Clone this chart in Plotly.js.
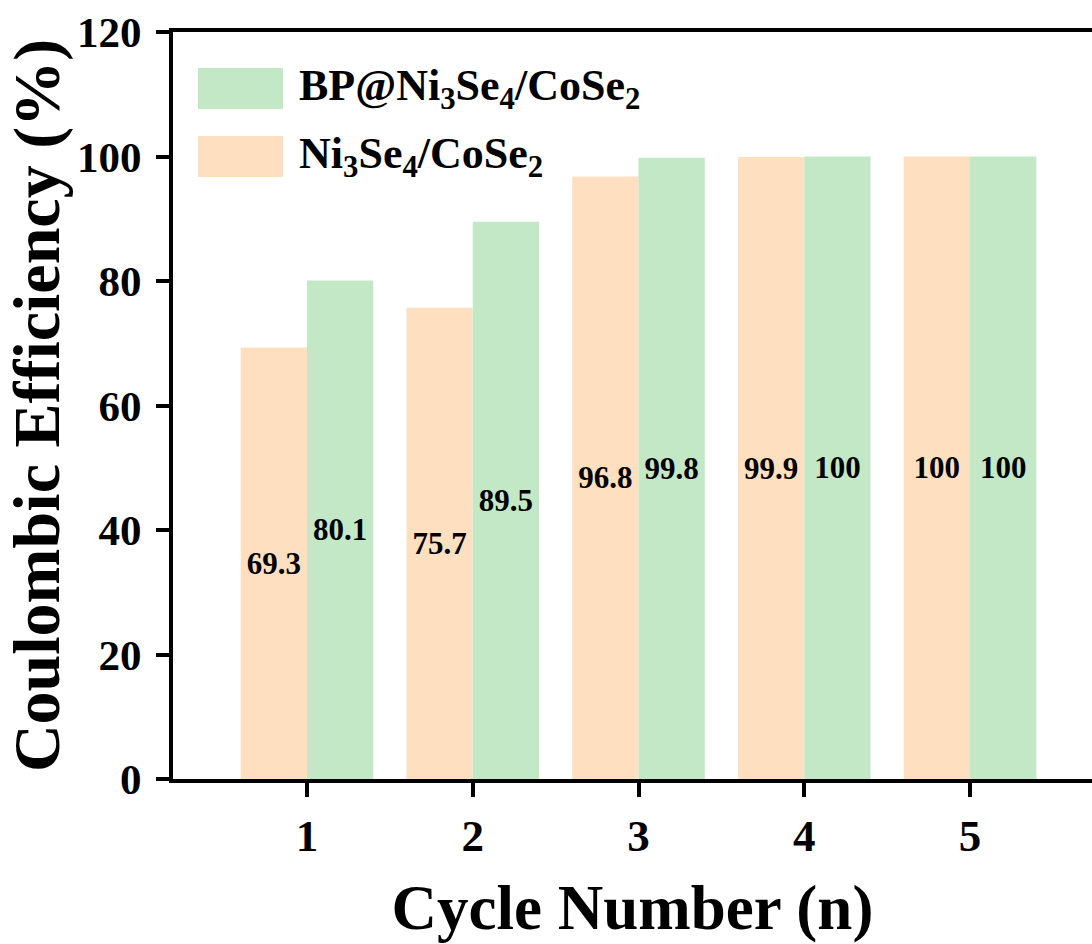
<!DOCTYPE html>
<html>
<head>
<meta charset="utf-8">
<script src="https://cdn.plot.ly/plotly-3.0.1.min.js"></script>
<style>html,body{margin:0;padding:0;background:#fff;}</style>
</head>
<body>
<div id="chart" style="width:1092px;height:944px;"></div>
<script>
// Data
const cycles = [1, 2, 3, 4, 5];
const ni3se4CoSe2 = [69.3, 75.7, 96.8, 99.9, 100];
const bpNi3se4CoSe2 = [80.1, 89.5, 99.8, 100, 100];
const yTicks = [0, 20, 40, 60, 80, 100, 120];
const seriesNames = ['Ni<sub>3</sub>Se<sub>4</sub>/CoSe<sub>2</sub>', 'BP@Ni<sub>3</sub>Se<sub>4</sub>/CoSe<sub>2</sub>'];

const FONT = 'Liberation Serif, Times New Roman, serif';
const ORANGE = '#FEDFC0';
const GREEN = '#C3E8C6';

const labelFont = {family: FONT, size: 31, color: '#000', weight: 'bold'};

const traces = [
  {
    type: 'bar', x: cycles, y: ni3se4CoSe2, name: 'Ni3Se4/CoSe2',
    marker: {color: ORANGE, line: {width: 0}},
    text: ni3se4CoSe2.map(String), textposition: 'inside', insidetextanchor: 'middle',
    textangle: 0, textfont: labelFont, insidetextfont: labelFont, constraintext: 'none',
    cliponaxis: false, hoverinfo: 'skip'
  },
  {
    type: 'bar', x: cycles, y: bpNi3se4CoSe2, name: 'BP@Ni3Se4/CoSe2',
    marker: {color: GREEN, line: {width: 0}},
    text: bpNi3se4CoSe2.map(String), textposition: 'inside', insidetextanchor: 'middle',
    textangle: 0, textfont: labelFont, insidetextfont: labelFont, constraintext: 'none',
    cliponaxis: false, hoverinfo: 'skip'
  }
];

// Plot area pixels: left 173, right 1092, top 32, bottom 779
const layout = {
  width: 1092, height: 944,
  margin: {l: 173, r: 0, t: 32, b: 165, pad: 0},
  paper_bgcolor: '#fff', plot_bgcolor: '#fff',
  barmode: 'group', bargap: 0.2, bargroupgap: 0,
  showlegend: false,
  font: {family: FONT, color: '#000', size: 30, weight: 'bold'},
  xaxis: {
    range: [0.1916, 5.736], tickvals: cycles, ticktext: cycles.map(String),
    showline: true, linecolor: '#000', linewidth: 4, mirror: true,
    ticks: 'outside', ticklen: 14, tickwidth: 4, tickcolor: '#000',
    showgrid: false, zeroline: false,
    tickfont: {family: FONT, size: 45, weight: 'bold', color: '#000'},
    title: {text: 'Cycle Number (n)', font: {family: FONT, size: 63, weight: 'bold', color: '#000'}, standoff: 26},
    automargin: false, fixedrange: true
  },
  yaxis: {
    range: [0, 120], tickvals: yTicks, ticktext: yTicks.map(String),
    showline: true, linecolor: '#000', linewidth: 4, mirror: false,
    ticks: 'outside', ticklen: 13, tickwidth: 4, tickcolor: '#000',
    showgrid: false, zeroline: false,
    tickfont: {family: FONT, size: 43, weight: 'bold', color: '#000'},
    ticklabelstandoff: 6,
    title: {text: 'Coulombic Efficiency (%)', font: {family: FONT, size: 66, weight: 'bold', color: '#000'}, standoff: 12},
    automargin: false, fixedrange: true
  },
  shapes: [
    {type: 'rect', xref: 'paper', yref: 'paper', x0: 0.0272, x1: 0.1197, y0: 0.8969, y1: 0.9518, fillcolor: GREEN, line: {width: 0}},
    {type: 'rect', xref: 'paper', yref: 'paper', x0: 0.0272, x1: 0.1197, y0: 0.8059, y1: 0.8608, fillcolor: ORANGE, line: {width: 0}}
  ],
  annotations: [
    {xref: 'paper', yref: 'paper', x: 0.1349, y: 0.9244, xanchor: 'left', yanchor: 'middle', showarrow: false,
     text: seriesNames[1], font: {family: FONT, size: 44, weight: 'bold', color: '#000'}},
    {xref: 'paper', yref: 'paper', x: 0.1349, y: 0.8334, xanchor: 'left', yanchor: 'middle', showarrow: false,
     text: seriesNames[0], font: {family: FONT, size: 44, weight: 'bold', color: '#000'}}
  ]
};

Plotly.newPlot('chart', traces, layout, {staticPlot: true, displayModeBar: false});
</script>
</body>
</html>
